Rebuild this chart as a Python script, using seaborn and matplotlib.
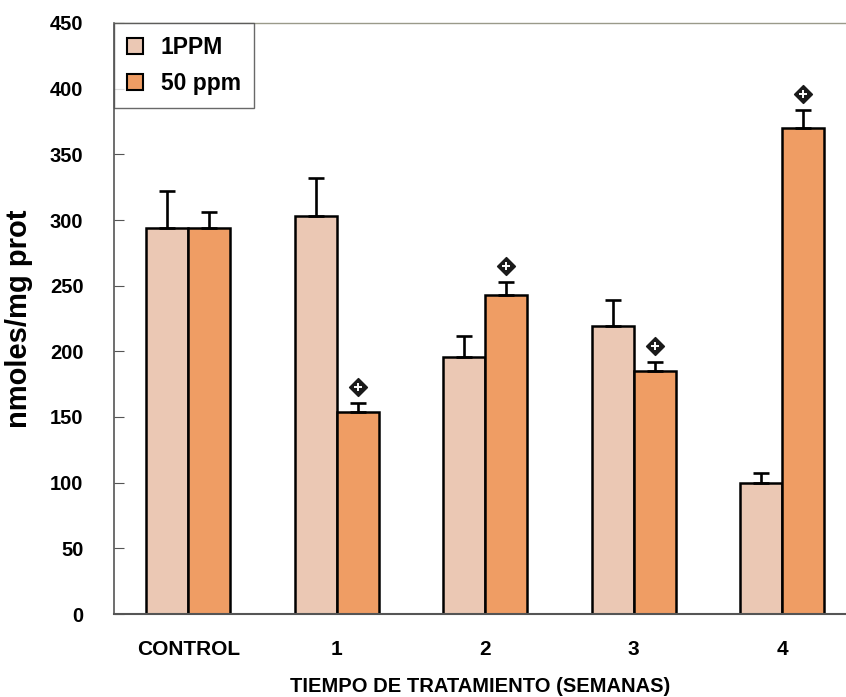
import matplotlib
matplotlib.use("Agg")
import matplotlib.pyplot as plt
import seaborn as sns
import pandas as pd
import numpy as np
from matplotlib.patches import Patch

categories = ["CONTROL", "1", "2", "3", "4"]
series_names = ["1PPM", "50 ppm"]
ppm1_values = [294, 303, 196, 219, 100]
ppm1_errors = [28, 29, 16, 20, 7]
ppm50_values = [294, 154, 243, 185, 370]
ppm50_errors = [12, 7, 10, 7, 14]
ppm50_significant = [False, True, True, True, True]
y_ticks = [0, 50, 100, 150, 200, 250, 300, 350, 400, 450]

colors = ["#EBC8B4", "#EF9D64"]

sns.set_theme(style="white")
plt.rcParams["font.family"] = ["Liberation Sans", "DejaVu Sans"]
plt.rcParams["font.weight"] = "bold"
plt.rcParams["text.color"] = "black"

df = pd.DataFrame({
    "tiempo": categories * 2,
    "dosis": [series_names[0]] * len(categories) + [series_names[1]] * len(categories),
    "valor": ppm1_values + ppm50_values,
})

fig = plt.figure(figsize=(8.46, 6.97), dpi=100)
ax = fig.add_axes([114 / 846, (697 - 614) / 697, 1 - 114 / 846, (614 - 23) / 697])

sns.barplot(data=df, x="tiempo", y="valor", hue="dosis", order=categories,
            hue_order=series_names, palette=colors, edgecolor="black",
            linewidth=1.8, width=0.566, errorbar=None, ax=ax, legend=False,
            saturation=1)

# error bars (upward only) and significance markers, from the library's bars
bars = [p for p in ax.patches if p.get_height() > 0]
bars = sorted(bars, key=lambda p: p.get_x())
ppm1_bars = bars[0::2]
ppm50_bars = bars[1::2]
for blist, vals, errs in [(ppm1_bars, ppm1_values, ppm1_errors),
                          (ppm50_bars, ppm50_values, ppm50_errors)]:
    xs = [b.get_x() + b.get_width() / 2 for b in blist]
    ax.errorbar(xs, vals, yerr=[np.zeros(len(errs)), errs], fmt="none",
                ecolor="black", elinewidth=1.9, capsize=5.5, capthick=1.9, zorder=5)

for b, v, e, s in zip(ppm50_bars, ppm50_values, ppm50_errors, ppm50_significant):
    if s:
        x = b.get_x() + b.get_width() / 2
        y = v + e + 12
        ax.scatter([x], [y], marker="D", s=80, facecolor="#1a1a1a",
                   edgecolor="#1a1a1a", linewidth=1.2, zorder=6)
        ax.scatter([x], [y], marker="+", s=40, color="white", linewidth=1.4, zorder=7)

ax.set_xlim(-0.5, 4.43)
ax.set_ylim(0, 450)
ax.set_yticks(y_ticks)
ax.set_yticklabels([str(t) for t in y_ticks], fontsize=14.5, fontweight="bold", color="black")
ax.set_xticklabels(categories, fontsize=15, fontweight="bold", color="black")
ax.tick_params(axis="y", direction="in", length=7, width=0.8, color="#555555",
               left=True, pad=22)
ax.tick_params(axis="x", length=0, pad=19)

ax.set_xlabel("TIEMPO DE TRATAMIENTO (SEMANAS)", fontsize=14.5, fontweight="bold",
              labelpad=13, color="black")
ax.set_ylabel("nmoles/mg prot", fontsize=21, fontweight="bold", labelpad=12, color="black")

ax.spines["right"].set_visible(False)
ax.spines["top"].set_color("#9a9a8a")
ax.spines["top"].set_linewidth(1.0)
ax.spines["top"].set_linestyle((0, (6, 1)))
ax.spines["left"].set_color("#555555")
ax.spines["left"].set_linewidth(1.2)
ax.spines["bottom"].set_color("#555555")
ax.spines["bottom"].set_linewidth(1.5)

handles = [Patch(facecolor=c, edgecolor="black", linewidth=1.5) for c in colors]
leg = ax.legend(handles, series_names, loc="upper left", bbox_to_anchor=(0, 1),
                borderaxespad=0, frameon=True, fancybox=False,
                handlelength=0.7, handleheight=0.7, handletextpad=0.8,
                labelspacing=0.6, borderpad=0.55, prop={"weight": "bold", "size": 16.5})
leg.get_frame().set_edgecolor("#444444")
leg.get_frame().set_linewidth(1.0)

fig.savefig("out.png", dpi=100)
